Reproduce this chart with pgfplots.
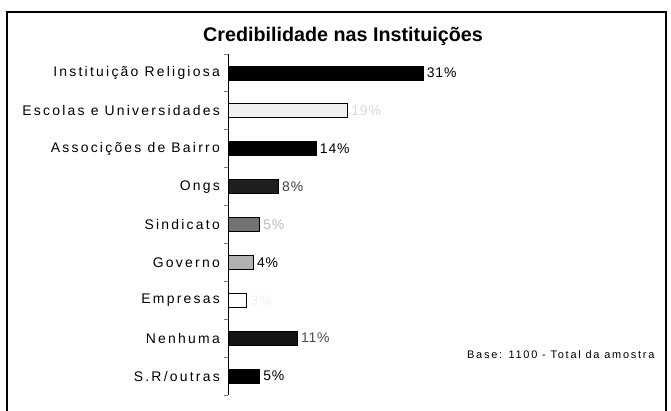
\documentclass[border=0pt]{standalone}
\usepackage{pgfplots}
\pgfplotsset{compat=1.18}
\usepackage{fontspec}
\setmainfont{Liberation Sans}
\newfontfamily\lblfont[LetterSpace=16]{Liberation Sans}
\newfontfamily\pctfont[LetterSpace=6]{Liberation Sans}
\newfontfamily\titfont[LetterSpace=0]{Liberation Sans}
\begin{document}
\begin{tikzpicture}
\useasboundingbox (0bp,0bp) rectangle (671bp,-411bp);
\draw[line width=1.3bp] (7bp,-411bp) -- (7bp,-12bp) -- (666bp,-12bp) -- (666bp,-411bp);
\node[font=\titfont\bfseries\fontsize{19.8}{22}\selectfont] at (343bp,-36bp) {Credibilidade nas Instituições};
\node[font=\lblfont\fontsize{11}{13}\selectfont, anchor=east] at (658bp,-355bp) {Base: 1100 - Total da amostra};
\begin{axis}[
  at={(228bp,-395bp)}, anchor=south west, scale only axis,
  width=432bp, height=341bp,
  xmin=0, xmax=68.7, ymin=-0.5, ymax=8.5, y dir=reverse,
  hide x axis, axis y line=left, y axis line style={-, line width=1bp},
  ytick={0,...,8},
  yticklabels={Instituição Religiosa, Escolas e Universidades, Associções de Bairro, Ongs, Sindicato, Governo, Empresas, Nenhuma, S.R/outras},
  major tick length=0pt,
  yticklabel style={font=\lblfont\fontsize{14}{16}\selectfont, inner sep=0pt, xshift=-8bp},
  extra y ticks={-0.5,0.5,...,8.5}, extra y tick labels={},
  extra y tick style={major tick length=4bp, tick align=outside, tick style={line width=1bp}},
  xbar, bar width=14bp, bar shift=0pt,
  /pgf/number format/assume math mode=true,
  nodes near coords={\pgfmathprintnumber{\pgfplotspointmeta}\%},
  nodes near coords align={horizontal},
  every node near coord/.append style={font=\pctfont\fontsize{14}{16}\selectfont, anchor=west, inner sep=3.5bp},
  clip=false,
]
\addplot[draw=black, line width=0.8bp, fill=black] coordinates {(31,0)};
\addplot[draw=black, line width=0.8bp, fill=gray!12, every node near coord/.append style={text=gray!30}] coordinates {(19,1)};
\addplot[draw=black, line width=0.8bp, fill=black] coordinates {(14,2)};
\addplot[draw=black, line width=0.8bp, fill=black!88, every node near coord/.append style={text=black!75}] coordinates {(8,3)};
\addplot[draw=black, line width=0.8bp, fill=black!55, every node near coord/.append style={text=gray!55}] coordinates {(5,4)};
\addplot[draw=black, line width=0.8bp, fill=black!30] coordinates {(4,5)};
\addplot[draw=black, line width=0.8bp, fill=white, every node near coord/.append style={text=gray!12}] coordinates {(3,6)};
\addplot[draw=black, line width=0.8bp, fill=black!92, every node near coord/.append style={text=black!70}] coordinates {(11,7)};
\addplot[draw=black, line width=0.8bp, fill=black] coordinates {(5,8)};
\end{axis}
\end{tikzpicture}
\end{document}
